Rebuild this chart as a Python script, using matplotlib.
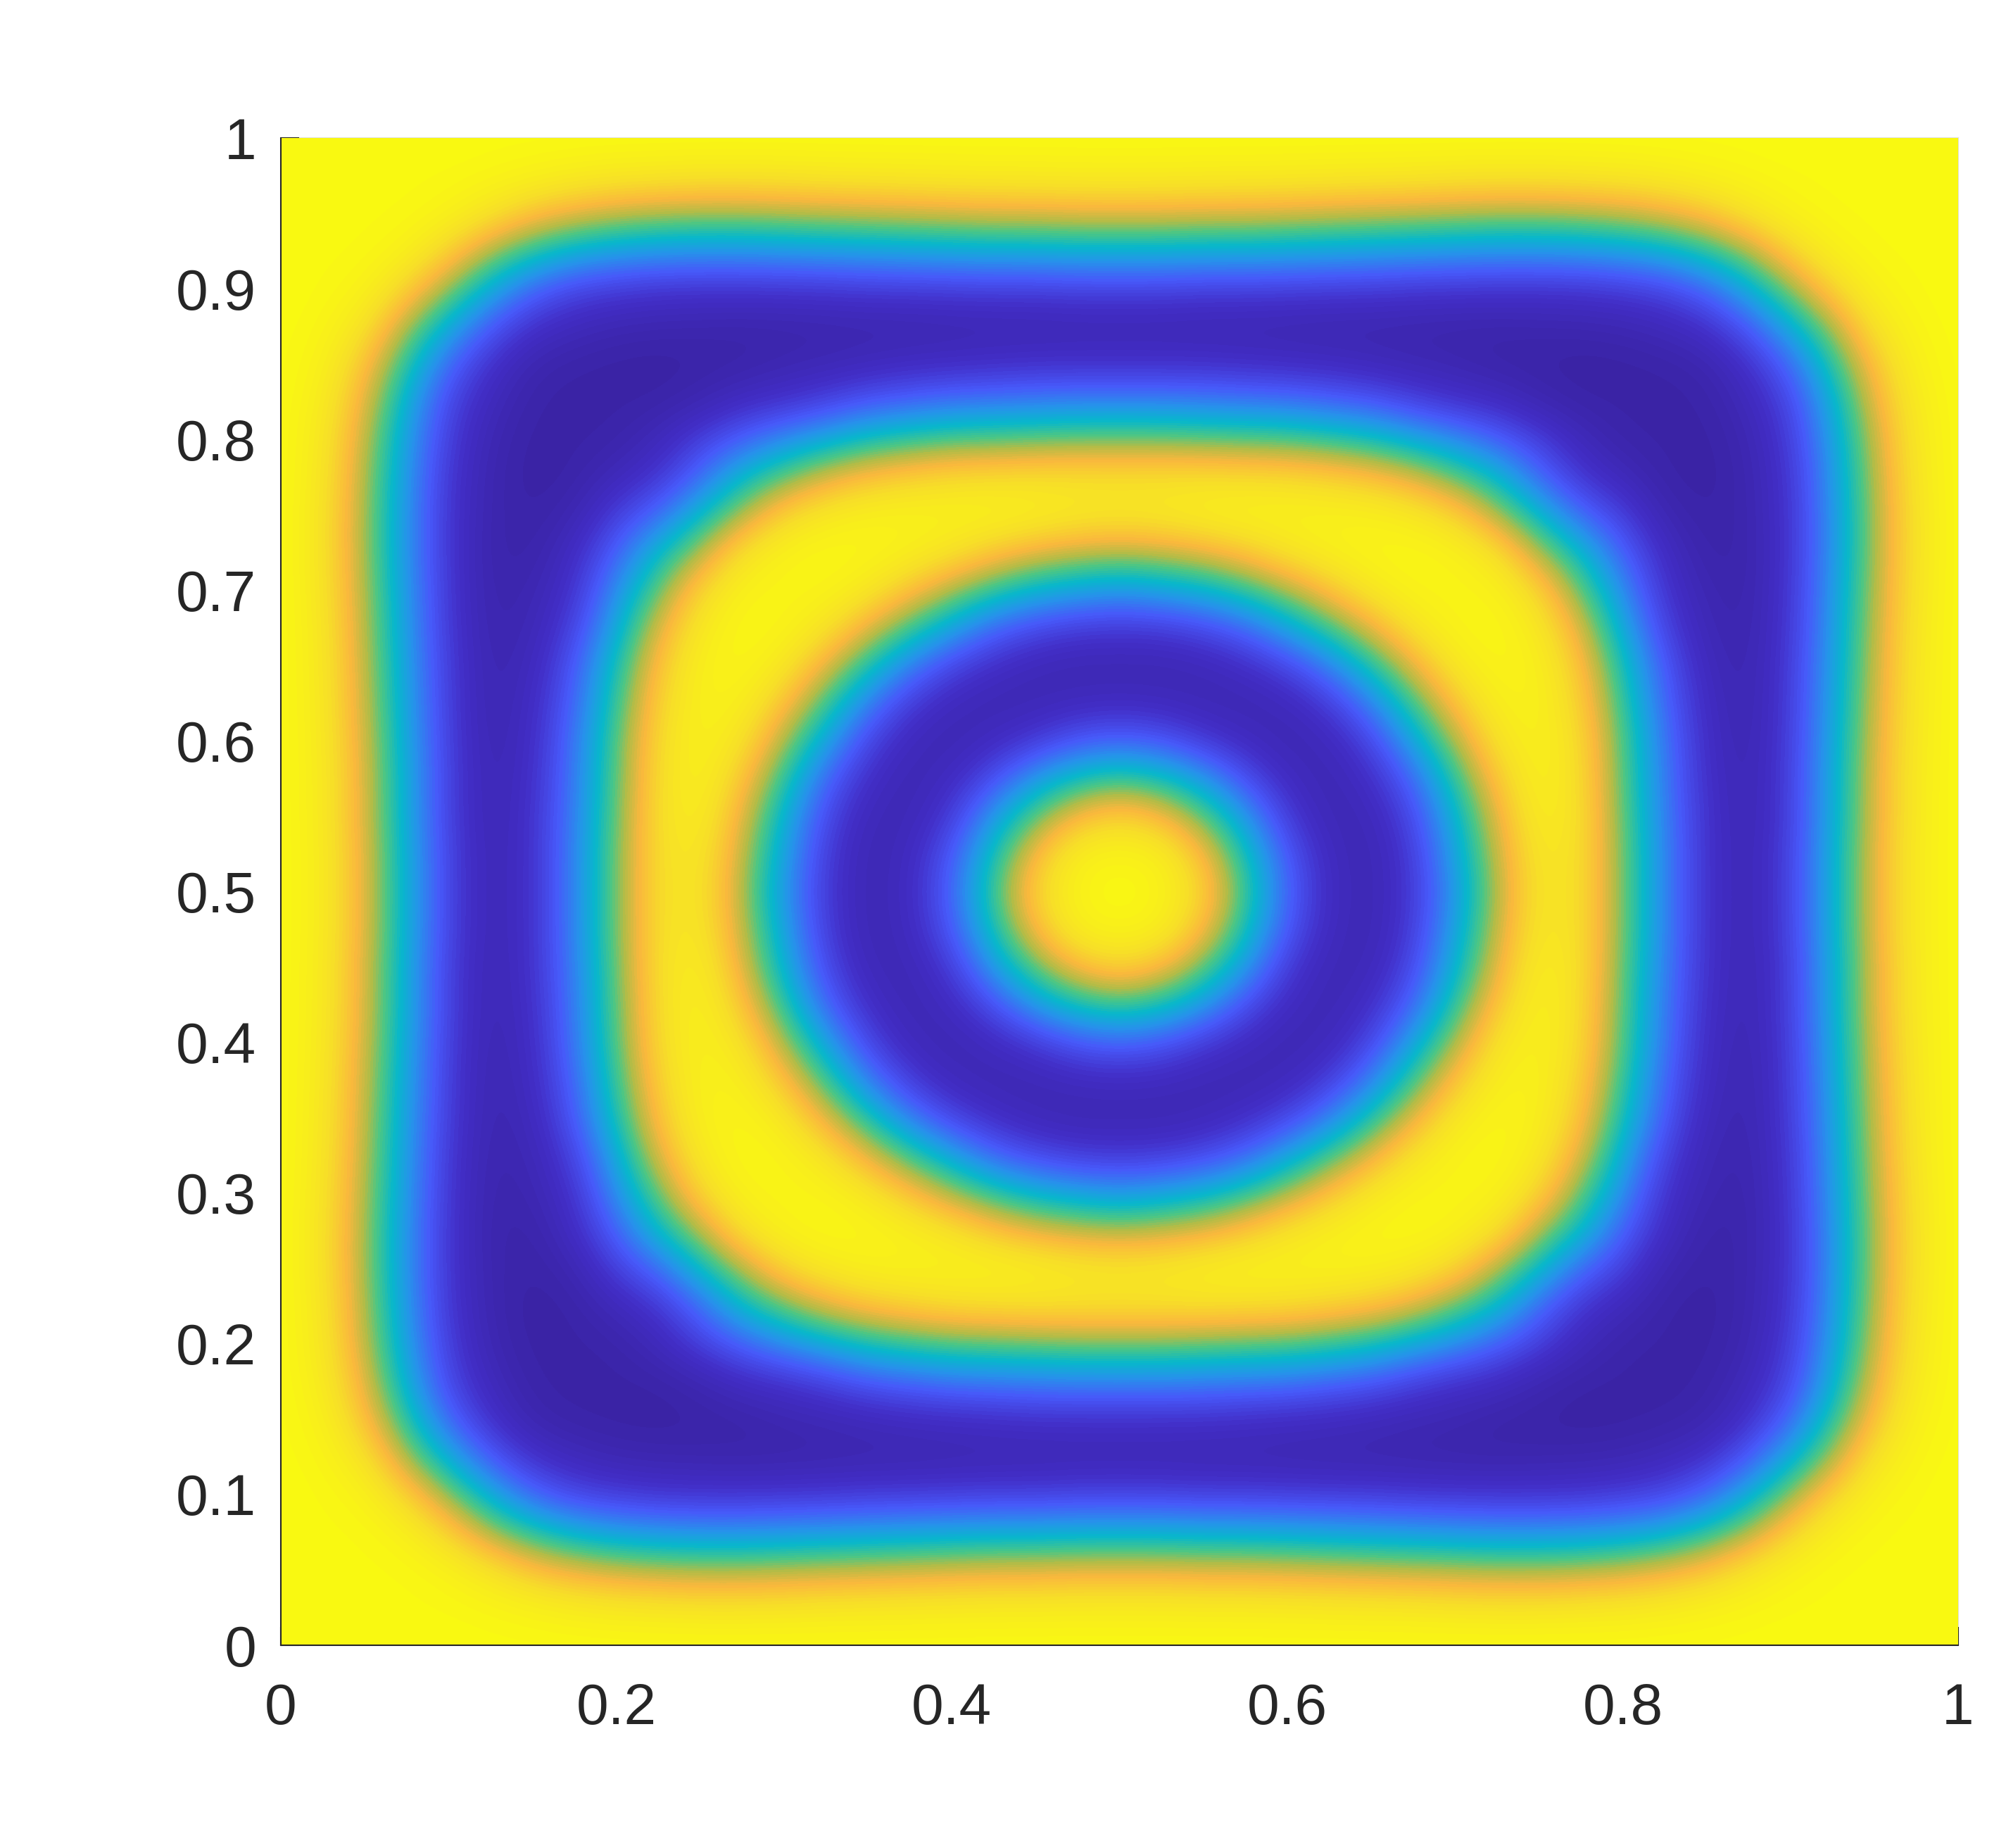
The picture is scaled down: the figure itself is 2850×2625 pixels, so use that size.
import numpy as np
import matplotlib
matplotlib.use("Agg")
import matplotlib.pyplot as plt
from matplotlib.colors import LinearSegmentedColormap

plt.rcParams['font.family'] = ['Liberation Sans', 'DejaVu Sans']

# values, on a 0.025 grid; row j holds y=0.025*j, x=0.025*j ... 0.5
row00 = [1, 1, 1, 1, 1, .995, .995, .995, .995, .995, .995, .995, .995, .995, .995, .995, .995, .995, .995, .995, .995]
row01 = [1, .995, .99, .985, .97, .945, .915, .895, .885, .875, .875, .88, .89, .895, .90, .905, .91, .91, .915, .915]
row02 = [.99, .985, .95, .87, .77, .71, .67, .65, .64, .64, .65, .66, .67, .68, .69, .70, .70, .71, .71]
row03 = [.94, .81, .64, .52, .44, .40, .38, .37, .37, .38, .39, .40, .41, .42, .43, .43, .44, .44]
row04 = [.62, .43, .28, .20, .17, .15, .145, .145, .15, .155, .165, .17, .175, .18, .18, .19, .19]
row05 = [.25, .13, .08, .05, .04, .035, .03, .03, .035, .04, .04, .045, .05, .05, .055, .055]
row06 = [.04, .015, .005, 0, .01, .02, .045, .06, .08, .10, .11, .12, .13, .13, .13]
row07 = [.005, .01, .015, .05, .11, .14, .19, .25, .28, .31, .32, .33, .34, .34]
row08 = [.02, .08, .18, .27, .36, .43, .50, .54, .57, .58, .59, .60, .60]
row09 = [.15, .29, .47, .59, .70, .77, .81, .84, .85, .86, .86, .86]
row10 = [.47, .65, .82, .90, .94, .95, .95, .95, .93, .90, .89]
row11 = [.86, .95, .98, .97, .93, .87, .78, .71, .67, .65]
row12 = [.97, .96, .89, .77, .64, .53, .45, .41, .38]
row13 = [.87, .71, .55, .41, .28, .21, .17, .16]
row14 = [.51, .33, .20, .12, .07, .05, .05]
row15 = [.17, .08, .05, .06, .09, .10]
row16 = [.05, .10, .17, .25, .28]
row17 = [.23, .39, .50, .55]
row18 = [.59, .75, .82]
row19 = [.93, .96]
row20 = [1.0]
octant_rows = [row00, row01, row02, row03, row04, row05, row06, row07, row08, row09, row10,
               row11, row12, row13, row14, row15, row16, row17, row18, row19, row20]

xticks = [0, 0.2, 0.4, 0.6, 0.8, 1]
yticks = [0, 0.1, 0.2, 0.3, 0.4, 0.5, 0.6, 0.7, 0.8, 0.9, 1]
xticklabels = ['0', '0.2', '0.4', '0.6', '0.8', '1']
yticklabels = ['0', '0.1', '0.2', '0.3', '0.4', '0.5', '0.6', '0.7', '0.8', '0.9', '1']

# the picture repeats across its diagonals and centre lines
quad = np.zeros((21, 21))
for j, r in enumerate(octant_rows):
    quad[j, j:] = r
    quad[j:, j] = r
half = np.hstack([quad, quad[:, -2::-1]])
field = np.vstack([half, half[-2::-1, :]])

stops = [(0.00, (.23, .14, .65)), (0.12, (.26, .18, .78)), (0.25, (.28, .35, .98)),
         (0.37, (.15, .58, .92)), (0.47, (.03, .72, .80)), (0.57, (.30, .78, .52)),
         (0.65, (.70, .74, .28)), (0.74, (.98, .72, .24)), (0.85, (.97, .87, .16)),
         (1.00, (.98, .98, .07))]
cmap = LinearSegmentedColormap.from_list('parula_like', stops, N=64)

W, H = 2850, 2625
fig = plt.figure(figsize=(W / 100, H / 100), dpi=100, facecolor='white')
ax = fig.add_axes([399 / W, 1 - 2337 / H, (2782 - 399) / W, (2337 - 196) / H])
ax.imshow(field, origin='lower', extent=(-0.0125, 1.0125, -0.0125, 1.0125), cmap=cmap,
          vmin=0, vmax=1, interpolation='bicubic', interpolation_stage='data',
          aspect='auto', zorder=1)
ax.set_xlim(0, 1)
ax.set_ylim(0, 1)
ax.set_axisbelow(True)
ax.set_xticks(xticks, xticklabels)
ax.set_yticks(yticks, yticklabels)
ax.tick_params(direction='in', length=18.7, width=1.5, color=(.15, .15, .15),
               labelsize=59, labelcolor=(.15, .15, .15), pad=38)
ax.tick_params(axis='y', pad=25)
for side in ('top', 'right'):
    ax.spines[side].set_color((.88, .88, .88))
    ax.spines[side].set_linewidth(1.5)
    ax.spines[side].set_zorder(0.3)
for side in ('left', 'bottom'):
    ax.spines[side].set_color((.15, .15, .15))
    ax.spines[side].set_linewidth(1.5)
fig.savefig('out.png', dpi=100, facecolor='white')
